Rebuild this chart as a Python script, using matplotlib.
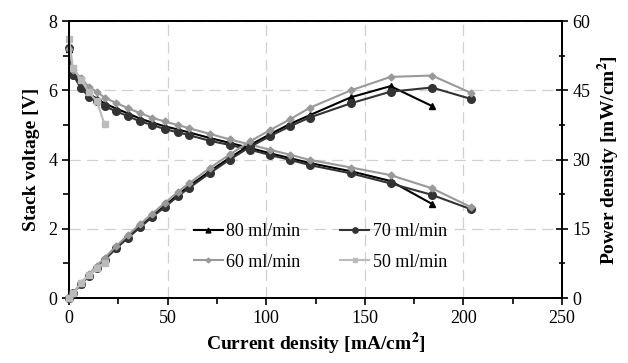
import numpy as np
import matplotlib as mpl
mpl.use('Agg')
import matplotlib.pyplot as plt
from matplotlib.ticker import MultipleLocator

plt.rcParams['font.family'] = 'Liberation Serif'
plt.rcParams['mathtext.fontset'] = 'stix'

# current density [mA/cm2]
current = [0, 2, 6, 10, 14, 18, 24, 30, 36, 42, 48.5, 55, 61, 71.5, 81.5,
           92, 102, 112, 122, 143, 163, 184, 204]

# stack voltage [V]
volt_80 = [7.2, 6.5, 6.15, 5.9, 5.76, 5.62, 5.47, 5.33, 5.18, 5.07, 4.96, 4.87,
           4.78, 4.62, 4.48, 4.33, 4.18, 4.04, 3.90, 3.66, 3.38, 2.72]
volt_70 = [7.22, 6.45, 6.06, 5.82, 5.68, 5.54, 5.39, 5.25, 5.10, 5.0, 4.88, 4.79,
           4.70, 4.54, 4.42, 4.28, 4.13, 3.99, 3.84, 3.60, 3.31, 2.98, 2.56]
volt_60 = [7.2, 6.6, 6.35, 6.1, 5.96, 5.79, 5.63, 5.48, 5.34, 5.21, 5.10, 5.0,
           4.90, 4.74, 4.58, 4.43, 4.28, 4.14, 3.99, 3.77, 3.55, 3.17, 2.62]
volt_50 = [7.48, 6.64, 6.3, 5.95, 5.68, 5.02]

# power density [mW/cm2]
pow_80 = [0, 1.1, 3.1, 4.9, 6.7, 8.4, 10.9, 13.3, 15.5, 17.7, 20.0, 22.3,
          24.3, 27.5, 30.4, 33.2, 35.5, 37.7, 39.6, 43.5, 45.9, 41.6]
pow_70 = [0, 1.1, 3.0, 4.85, 6.6, 8.3, 10.8, 13.1, 15.3, 17.5, 19.7, 22.0,
          23.9, 27.1, 30.0, 32.8, 35.1, 37.2, 39.1, 42.2, 44.7, 45.6, 43.1]
pow_60 = [0, 1.1, 3.2, 5.1, 7.0, 8.7, 11.3, 13.7, 16.0, 18.2, 20.6, 22.9,
          24.9, 28.2, 31.1, 34.0, 36.4, 38.7, 41.2, 45.0, 47.9, 48.2, 44.4]
pow_50 = [0, 1.1, 3.2, 5.0, 6.6, 7.6]

series = [("80 ml/min", volt_80, pow_80, "black", "^"),
          ("70 ml/min", volt_70, pow_70, "#333333", "o"),
          ("60 ml/min", volt_60, pow_60, "#999999", "D"),
          ("50 ml/min", volt_50, pow_50, "#bbbbbb", "s")]

fig = plt.figure(figsize=(6.28, 3.63), dpi=100)
ax = fig.add_axes([0.110, 0.179, 0.785, 0.763])
ax2 = ax.twinx()

msize = {"^": 5, "o": 5.5, "D": 3.5, "s": 5}
handles = {}
for label, v, p, col, mk in series:
    n = len(v)
    h, = ax.plot(current[:n], v, color=col, marker=mk, ms=msize[mk], lw=1.5,
                 label=label, zorder=3, clip_on=False)
    ax2.plot(current[:len(p)], p, color=col, marker=mk, ms=msize[mk], lw=1.5,
             zorder=3, clip_on=False)
    handles[label] = h

ax.set_xlim(0, 250)
ax.set_ylim(0, 8)
ax2.set_ylim(0, 60)
ax.xaxis.set_major_locator(MultipleLocator(50))
ax.xaxis.set_minor_locator(MultipleLocator(25))
ax.yaxis.set_major_locator(MultipleLocator(2))
ax.yaxis.set_minor_locator(MultipleLocator(1))
ax2.yaxis.set_major_locator(MultipleLocator(15))
ax2.yaxis.set_minor_locator(MultipleLocator(7.5))

ax.grid(True, which='major', color='#d0d0d0', linestyle=(0, (9, 5)), lw=0.9)
ax.set_axisbelow(True)

ax.tick_params(axis='both', which='both', direction='out', labelsize=13, width=1.2)
ax.tick_params(which='major', length=5)
ax.tick_params(which='minor', length=4)
ax2.tick_params(which='both', direction='inout', labelsize=13, width=1.2)
ax2.tick_params(which='major', length=8)
ax2.tick_params(which='minor', length=5)
for a in (ax, ax2):
    for s in a.spines.values():
        s.set_linewidth(1.3)

ax.set_xlabel(r"Current density [mA/cm$^{\mathbf{2}}$]", fontsize=14, fontweight='bold', labelpad=3)
ax.set_ylabel("Stack voltage [V]", fontsize=14, fontweight='bold', labelpad=6)
ax2.set_ylabel(r"Power density [mW/cm$^{\mathbf{2}}$]", fontsize=14, fontweight='bold', labelpad=4)

# legend filled row-wise: 80, 70 / 60, 50
order = ["80 ml/min", "60 ml/min", "70 ml/min", "50 ml/min"]
ax.legend([handles[k] for k in order], order, loc='lower left',
          bbox_to_anchor=(0.22, 0.04), ncol=2, frameon=False,
          fontsize=13, handlelength=1.6, handletextpad=0.2, columnspacing=2.2,
          labelspacing=0.75, markerscale=0.7)

plt.savefig("out.png", dpi=100)
